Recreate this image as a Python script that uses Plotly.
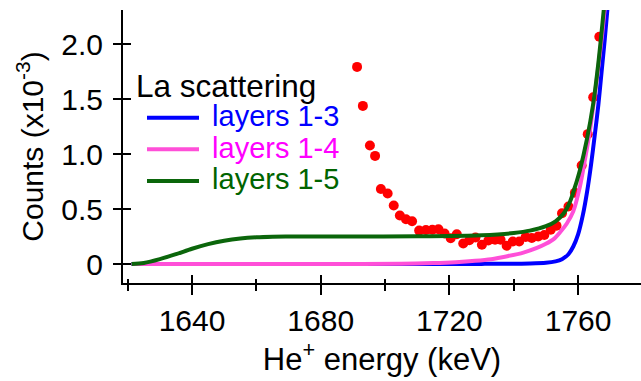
import plotly.graph_objects as go

# ---------------- data ----------------
data_x = [1691.3, 1693.1, 1695.3, 1696.9, 1698.7, 1700.8, 1702.7, 1704.6, 1706.5, 1708.4,
          1710.6, 1712.7, 1714.7, 1716.6, 1718.5, 1720.4, 1722.3, 1724.3, 1726.2, 1728.1,
          1730.1, 1732.1, 1734.2, 1735.9, 1737.8, 1739.7, 1741.7, 1743.7, 1745.6, 1747.6,
          1749.5, 1751.5, 1753.3, 1755.0, 1757.0, 1759.0, 1761.1, 1763.0, 1764.7, 1766.6]
data_y = [1.795, 1.44, 1.08, 0.985, 0.683, 0.643, 0.534, 0.443, 0.408, 0.39,
          0.305, 0.31, 0.313, 0.317, 0.278, 0.235, 0.272, 0.187, 0.217, 0.242,
          0.176, 0.215, 0.222, 0.222, 0.167, 0.206, 0.206, 0.246, 0.237, 0.252,
          0.265, 0.313, 0.349, 0.463, 0.525, 0.649, 0.897, 1.183, 1.519, 2.07]

l13_x = [1621.2, 1700, 1730, 1745, 1750, 1753, 1755, 1757, 1758.5, 1760, 1761.5, 1762.8,
         1764, 1765.2, 1766.3, 1767.3, 1768.3, 1769.2, 1770]
l13_y = [0.0, 0.0, 0.002, 0.006, 0.012, 0.025, 0.045, 0.09, 0.16, 0.27, 0.45, 0.66,
         0.9, 1.18, 1.45, 1.75, 2.05, 2.35, 2.6]

l14_x = [1621.2, 1690, 1705, 1715, 1722, 1728, 1733, 1738, 1743, 1747, 1750, 1752.5,
         1754.4, 1756.5, 1758.5, 1760.6, 1762, 1763.7, 1765, 1766.3, 1767.5, 1768.6]
l14_y = [0.0, 0.0, 0.004, 0.01, 0.018, 0.03, 0.045, 0.072, 0.105, 0.145, 0.185, 0.23,
         0.29, 0.37, 0.48, 0.71, 0.93, 1.22, 1.5, 1.8, 2.1, 2.42]

l15_x = [1621.2, 1625, 1630, 1635, 1640, 1645, 1650, 1655, 1660, 1665, 1670, 1690, 1710,
         1720, 1730, 1735, 1740, 1745, 1750, 1753, 1755.5, 1757.5, 1759, 1760.6, 1762.7,
         1764.7, 1766.3, 1767.6, 1768.6]
l15_y = [0.0, 0.01, 0.045, 0.09, 0.14, 0.182, 0.213, 0.233, 0.244, 0.249, 0.251, 0.252, 0.253,
         0.255, 0.262, 0.27, 0.283, 0.305, 0.345, 0.39, 0.46, 0.57, 0.7, 0.86, 1.13,
         1.46, 1.83, 2.2, 2.5]

series_names = ["layers 1-3", "layers 1-4", "layers 1-5"]
legend_title = "La scattering"
x_ticks = [1640, 1680, 1720, 1760]
y_ticks = [0, 0.5, 1.0, 1.5, 2.0]
y_ticktext = ["0", "0.5", "1.0", "1.5", "2.0"]
x_title = "\u00a0\u00a0He<sup>+</sup> energy (keV)"
y_title = "Counts (x10<sup>-3</sup>)"

# ---------------- figure ----------------
FONT = "Liberation Sans, Arial, sans-serif"
W, H = 641, 381
ML, MR, MT, MB = 123, 0, 10, 97.7
PW, PH = W - ML - MR, H - MT - MB

xr = [1618.55, 1779.55]
yr = [-0.172, 2.313]

fig = go.Figure()
fig.add_trace(go.Scatter(x=data_x, y=data_y, mode="markers",
                         marker=dict(color="#FF0000", size=10, line=dict(width=0)),
                         showlegend=False, hoverinfo="skip", xaxis="x", yaxis="y"))

line_cols = ["#0000FF", "#FF4FD8", "#0B660B"]
text_cols = ["#0000FF", "#FF00FF", "#006400"]
for name, xs, ys, lc, tc in zip(series_names, [l13_x, l14_x, l15_x], [l13_y, l14_y, l15_y],
                                line_cols, text_cols):
    fig.add_trace(go.Scatter(
        x=xs, y=ys, mode="lines",
        line=dict(color=lc, width=4, shape="spline", smoothing=0.8),
        name=f"<span style='color:{tc};font-size:29px'>\u00a0{name}</span>",
        xaxis="x2", yaxis="y2", hoverinfo="skip"))

axis_common = dict(showgrid=False, zeroline=False, tickwidth=2, tickcolor="black",
                   tickfont=dict(family=FONT, size=30, color="black"))

fig.update_layout(
    width=W, height=H,
    margin=dict(l=ML, r=MR, t=MT, b=MB, pad=0),
    paper_bgcolor="white", plot_bgcolor="white",
    font=dict(family=FONT, size=30, color="black"),
    showlegend=True,
    xaxis=dict(range=xr, showline=True, linewidth=2, linecolor="black",
               ticks="outside", ticklen=10, tickvals=x_ticks,
               minor=dict(ticks="outside", ticklen=6, tickwidth=2, tickcolor="black",
                          dtick=20, tick0=1640, showgrid=False),
               title=dict(text=x_title, font=dict(family=FONT, size=31, color="black"),
                          standoff=8),
               anchor="y", **axis_common),
    yaxis=dict(range=yr, showline=True, linewidth=2, linecolor="black",
               ticks="outside", ticklen=8, tickvals=y_ticks, ticktext=y_ticktext,
               ticklabelstandoff=4,
               title=dict(text=y_title, font=dict(family=FONT, size=30, color="black"),
                          standoff=9),
               anchor="x", **axis_common),
    xaxis2=dict(range=xr, overlaying="x", anchor="y2", showline=False,
                ticks="inside", ticklen=8, tickvals=x_ticks, showticklabels=False,
                minor=dict(ticks="inside", ticklen=4, tickwidth=2, tickcolor="black",
                           dtick=20, tick0=1640, showgrid=False),
                **axis_common),
    yaxis2=dict(range=yr, overlaying="y", anchor="x2", side="left", showline=False,
                ticks="inside", ticklen=8, tickvals=y_ticks, showticklabels=False,
                **axis_common),
    legend=dict(x=(134 - ML) / PW, y=(H - MB - 56) / PH, xanchor="left", yanchor="top",
                bgcolor="rgba(0,0,0,0)", borderwidth=0, itemwidth=52, indentation=8,
                font=dict(family=FONT, size=22),
                title=dict(text=legend_title, font=dict(family=FONT, size=31.5, color="black")),
                tracegroupgap=0),
)

fig.write_html("out.html")
